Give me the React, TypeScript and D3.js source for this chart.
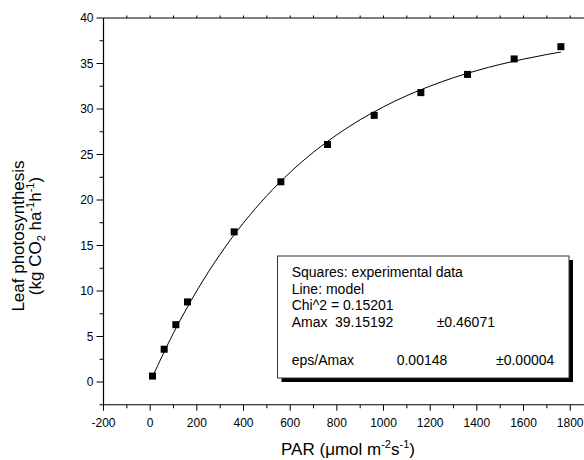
import React from 'react';
import * as d3 from 'd3';

// measured PAR levels and leaf photosynthesis
const parLevels = [10, 60, 110, 160, 360, 560, 760, 960, 1160, 1360, 1560, 1760];
const photoValues = [0.65, 3.6, 6.3, 8.8, 16.5, 22.0, 26.1, 29.3, 31.8, 33.8, 35.5, 36.85];

// model curve, read at these PAR levels
const modelPar = [10, 100, 200, 300, 400, 500, 600, 700, 800, 900, 1000, 1100, 1200, 1300, 1400, 1500, 1600, 1700, 1760];
const modelValues = [0.58, 5.39, 10.03, 14.04, 17.49, 20.47, 23.04, 25.26, 27.17, 28.82, 30.24, 31.47, 32.52, 33.44, 34.22, 34.9, 35.48, 35.99, 36.26];

const xMajorTicks = [-200, 0, 200, 400, 600, 800, 1000, 1200, 1400, 1600, 1800];
const yMajorTicks = [0, 5, 10, 15, 20, 25, 30, 35, 40];

const legendLines = [
  'Squares: experimental data',
  'Line: model',
  'Chi^2 = 0.15201',
];
const amaxRow = ['Amax', '39.15192', '\u00b10.46071'];
const epsRow = ['eps/Amax', '0.00148', '\u00b10.00004'];

const W = 584, H = 460;
const left = 103.5, top = 18, bottom = 404.75;

export default function App() {
  const x = d3.scaleLinear().domain([-200, 1800]).range([left, 570.2]);
  const y = d3.scaleLinear().domain([-2.5, 40]).range([bottom, top]);

  const xMinor = d3.range(-100, 1800, 200);
  const xTop = d3.range(-100, 1801, 100);
  const yMinor = d3.range(-2.5, 40, 5);

  const line = d3.line<number>()
    .x((d, i) => x(modelPar[i]))
    .y(d => y(d))
    .curve(d3.curveMonotoneX);

  const font = 'Arial, "Liberation Sans", sans-serif';
  const box = { x0: 277.5, y0: 256, x1: 569, y1: 378 };

  return (
    <div style={{ position: 'absolute', left: 0, top: 0 }}>
      <svg width={W} height={H} style={{ display: 'block', background: '#fff' }} fontFamily={font}>
        {/* frame */}
        <line x1={left} x2={W} y1={top} y2={top} stroke="#000" strokeWidth={1} />
        <line x1={left} x2={left} y1={top} y2={bottom} stroke="#000" strokeWidth={1.2} />
        <line x1={left} x2={W} y1={bottom} y2={bottom} stroke="#000" strokeWidth={1.2} />

        {/* top ticks */}
        {xTop.map(t => (
          <line key={'tt' + t} x1={x(t)} x2={x(t)} y1={top} y2={top - 2.5} stroke="#000" />
        ))}

        {/* bottom axis */}
        {xMajorTicks.map(t => (
          <g key={'xb' + t}>
            <line x1={x(t)} x2={x(t)} y1={bottom} y2={bottom + 6} stroke="#000" />
            <text x={x(t)} y={427} fontSize={12} textAnchor="middle">{t}</text>
          </g>
        ))}
        {xMinor.map(t => (
          <line key={'xm' + t} x1={x(t)} x2={x(t)} y1={bottom} y2={bottom + 3.5} stroke="#000" />
        ))}

        {/* left axis */}
        {yMajorTicks.map(t => (
          <g key={'yl' + t}>
            <line x1={left} x2={left - 7} y1={y(t)} y2={y(t)} stroke="#000" />
            <text x={93.5} y={y(t) + 4.3} fontSize={12} textAnchor="end">{t}</text>
          </g>
        ))}
        {yMinor.map(t => (
          <line key={'ym' + t} x1={left} x2={left - 4} y1={y(t)} y2={y(t)} stroke="#000" />
        ))}

        {/* model line */}
        <path d={line(modelValues) || ''} fill="none" stroke="#000" strokeWidth={1} />

        {/* data squares */}
        {parLevels.map((p, i) => (
          <rect key={'pt' + i} x={x(p) - 3.5} y={y(photoValues[i]) - 3.5} width={7} height={7} fill="#000" />
        ))}

        {/* legend box with shadow */}
        <rect x={box.x0 + 4} y={box.y0 + 4} width={box.x1 - box.x0} height={box.y1 - box.y0} fill="#000" />
        <rect x={box.x0} y={box.y0} width={box.x1 - box.x0} height={box.y1 - box.y0} fill="#fff" stroke="#333" strokeWidth={1} />
        <g fontSize={14}>
          {legendLines.map((s, i) => (
            <text key={'lg' + i} x={291.7} y={277 + i * 16.7}>{s}</text>
          ))}
          <text x={291.7} y={327}>{amaxRow[0]}</text>
          <text x={335} y={327}>{amaxRow[1]}</text>
          <text x={436.7} y={327}>{amaxRow[2]}</text>
          <text x={291.7} y={365}>{epsRow[0]}</text>
          <text x={396.7} y={365}>{epsRow[1]}</text>
          <text x={496} y={365}>{epsRow[2]}</text>
        </g>

        {/* axis titles */}
        <text x={348} y={455} fontSize={17} textAnchor="middle">
          PAR (<tspan>&#956;</tspan>mol m<tspan fontSize={11} dy={-7}>-2</tspan><tspan dy={7}>s</tspan><tspan fontSize={11} dy={-7}>-1</tspan><tspan dy={7}>)</tspan>
        </text>
        <g transform="translate(24,236) rotate(-90)">
          <text x={0} y={0} fontSize={17} textAnchor="middle">Leaf photosynthesis</text>
        </g>
        <g transform="translate(41,236) rotate(-90)">
          <text x={0} y={0} fontSize={17} textAnchor="middle">
            (kg CO<tspan fontSize={11} dy={4}>2</tspan><tspan dy={-4}> ha</tspan><tspan fontSize={11} dy={-7}>-1</tspan><tspan dy={7}>h</tspan><tspan fontSize={11} dy={-7}>-1</tspan><tspan dy={7}>)</tspan>
          </text>
        </g>
      </svg>
    </div>
  );
}
